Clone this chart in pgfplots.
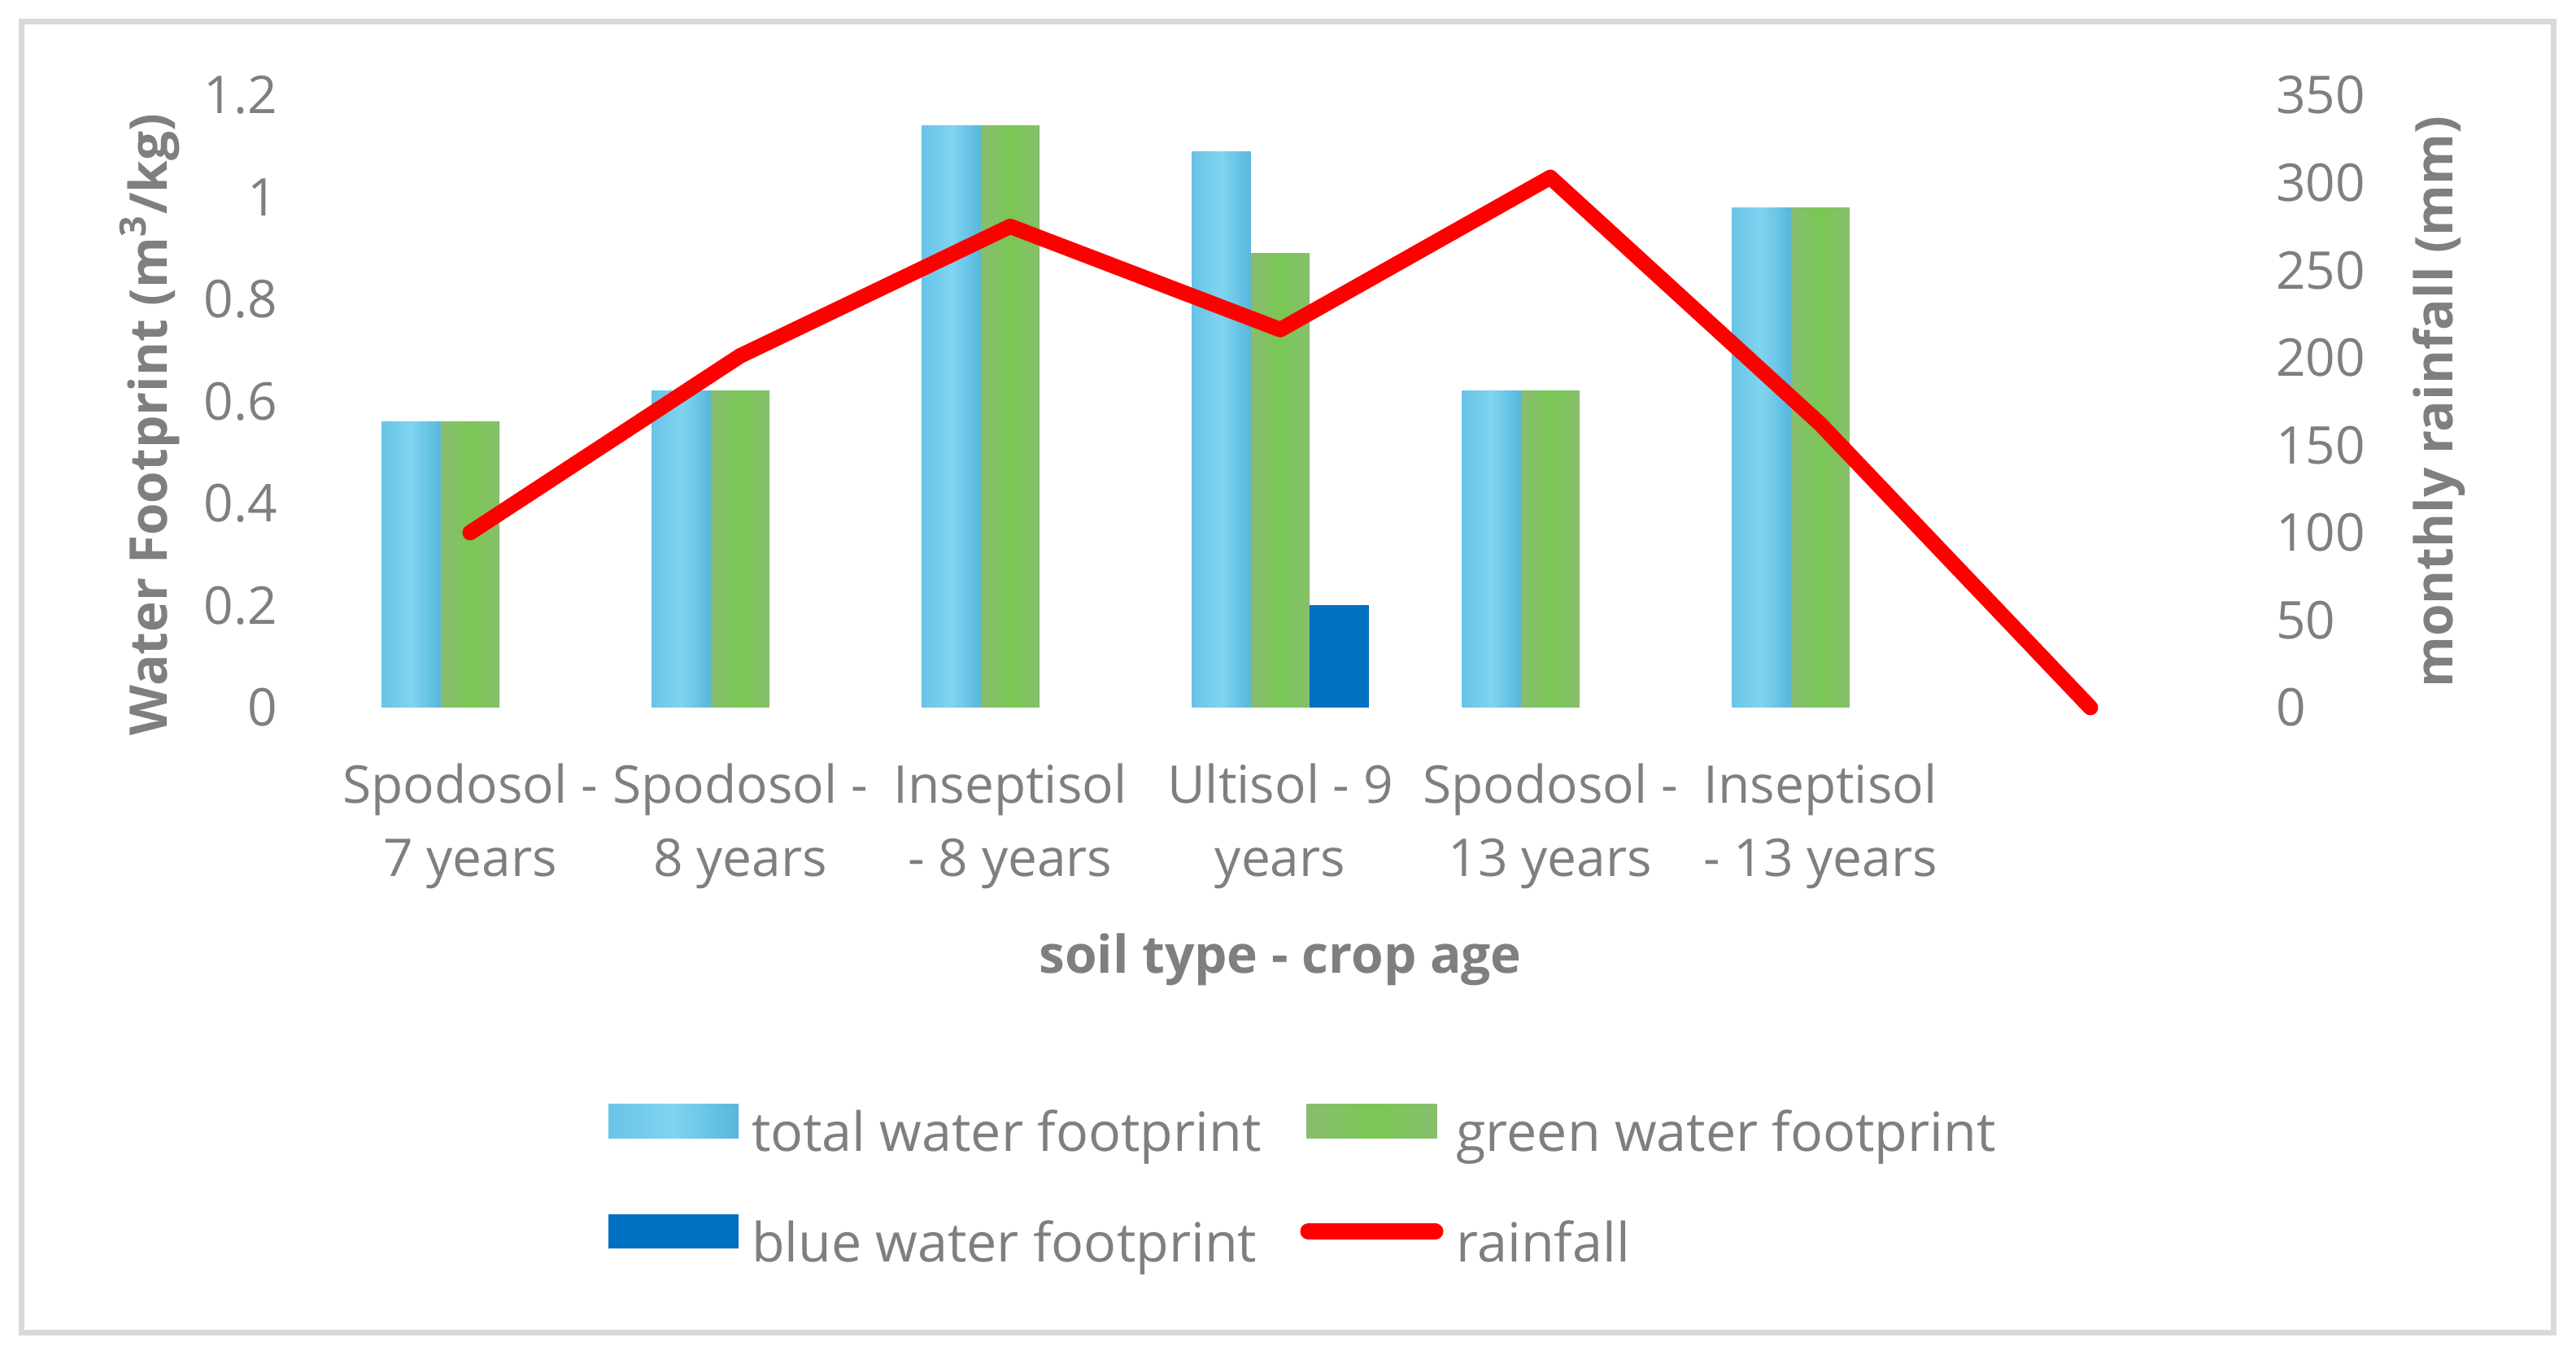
\documentclass[border=0pt]{standalone}
\usepackage{pgfplots}
\pgfplotsset{compat=1.18}
\usepackage{fontspec}
\setmainfont{Open Sans}
\definecolor{txt}{HTML}{7F7F7F}
\definecolor{framec}{HTML}{D9D9D9}
\definecolor{tL}{HTML}{68C4E7}
\definecolor{tR}{HTML}{56B7DD}
\definecolor{tM}{HTML}{80D4EF}
\definecolor{gL}{HTML}{88BD70}
\definecolor{gR}{HTML}{86BF6C}
\definecolor{gM}{HTML}{7AC755}
\definecolor{blu}{HTML}{0070C0}
\pgfplotsset{
  totbar/.style={draw=none, bar shift=-18.1pt, left color=tL, right color=tR, middle color=tM},
  grnbar/.style={draw=none, bar shift=0pt, left color=gL, right color=gR, middle color=gM},
}
\begin{document}
\begin{tikzpicture}
\path[use as bounding box] (-103pt,-199pt) rectangle (688.75pt,217.5pt);
\draw[framec, line width=1.75pt] (-96.25pt,-192.125pt) rectangle (681.875pt,210.75pt);
\begin{axis}[
  at={(0pt,0pt)}, anchor=south west,
  scale only axis, width=581pt, height=188.25pt,
  xmin=-0.5, xmax=6.5, ymin=0, ymax=1.2,
  axis x line*=bottom, axis y line*=left,
  axis line style={draw=none}, tick style={draw=none},
  xtick={0,1,2,3,4,5,6},
  xticklabels={{Spodosol -\\7 years},{Spodosol -\\8 years},{Inseptisol\\- 8 years},{Ultisol - 9\\years},{Spodosol -\\13 years},{Inseptisol\\- 13 years},{}},
  ytick={0,0.2,0.4,0.6,0.8,1,1.2},
  yticklabels={0,0.2,0.4,0.6,0.8,1,1.2},
  ticklabel style={font=\fontsize{16}{22.5}\selectfont, text=txt},
  xticklabel style={align=center, yshift=-9.4pt},
  yticklabel style={xshift=-14.2pt},
  ybar=0pt, bar width=18.1pt,
  xlabel={soil type - crop age},
  ylabel={Water Footprint (m\textsuperscript{3}/kg)},
  every axis x label/.style={at={(rel axis cs:0.5,0)}, yshift=-81.75pt, anchor=base, font=\bfseries\fontsize{16}{19}\selectfont, text=txt},
  every axis y label/.style={at={(rel axis cs:0,0.462)}, xshift=-57pt, rotate=90, anchor=center, font=\bfseries\fontsize{16}{19}\selectfont, text=txt},
  clip=false
]
% total water footprint
\addplot[totbar] coordinates {(0,0.56)};
\addplot[totbar] coordinates {(1,0.62)};
\addplot[totbar] coordinates {(2,1.14)};
\addplot[totbar] coordinates {(3,1.09)};
\addplot[totbar] coordinates {(4,0.62)};
\addplot[totbar] coordinates {(5,0.98)};
% green water footprint
\addplot[grnbar] coordinates {(0,0.56)};
\addplot[grnbar] coordinates {(1,0.62)};
\addplot[grnbar] coordinates {(2,1.14)};
\addplot[grnbar] coordinates {(3,0.89)};
\addplot[grnbar] coordinates {(4,0.62)};
\addplot[grnbar] coordinates {(5,0.98)};
% blue water footprint
\addplot[draw=none, fill=blu, bar shift=18.1pt] coordinates {(3,0.20)};
\end{axis}
\begin{axis}[
  at={(0pt,0pt)}, anchor=south west,
  scale only axis, width=581pt, height=188.25pt,
  xmin=-0.5, xmax=6.5, ymin=0, ymax=350,
  axis y line*=right, axis x line*=bottom,
  axis line style={draw=none}, tick style={draw=none},
  xtick=\empty,
  ytick={0,50,100,150,200,250,300,350},
  yticklabels={0,50,100,150,200,250,300,350},
  yticklabel pos=right,
  ticklabel style={font=\fontsize{16}{23}\selectfont, text=txt},
  yticklabel style={anchor=west, xshift=12pt},
  ylabel={monthly rainfall (mm)},
  every axis y label/.style={at={(rel axis cs:1,0.499)}, xshift=65.75pt, rotate=90, anchor=center, font=\bfseries\fontsize{16}{19}\selectfont, text=txt},
  clip=false,
  legend columns=2,
  legend cell align=left,
  legend style={at={(axis description cs:0,0)}, xshift=84pt, yshift=-121.75pt, anchor=north west,
    draw=none, fill=none, inner sep=0pt, outer sep=0pt,
    font=\fontsize{16.6}{19}\selectfont, text=txt,
    nodes={inner sep=0pt, text height=12pt, text depth=4pt},
    row sep=15.5pt,
    /tikz/every odd column/.append style={column sep=4pt},
    /tikz/every even column/.append style={column sep=12pt},
    /tikz/column 3/.append style={column sep=2pt}},
]
\addlegendimage{draw=none, legend image code/.code={\path[draw=none, left color=tL, right color=tR, middle color=tM] (0pt,0pt) rectangle (40pt,10.5pt);}}
\addlegendentry{total water footprint}
\addlegendimage{draw=none, legend image code/.code={\path[draw=none, left color=gL, right color=gR, middle color=gM] (0pt,0pt) rectangle (40pt,10.5pt);}}
\addlegendentry{green water footprint}
\addlegendimage{draw=none, legend image code/.code={\fill[blu, draw=none] (0pt,0pt) rectangle (40pt,10.5pt);}}
\addlegendentry{blue water footprint}
\addplot[red, line width=4.75pt, line join=round, line cap=round,
  legend image code/.code={\draw[red, line width=5pt, line cap=round] (0.5pt,5.25pt) -- (39.5pt,5.25pt);}]
  coordinates {(0,100) (1,201) (2,275) (3,216) (4,303) (5,162) (6,0)};
\addlegendentry{rainfall}
\end{axis}
\end{tikzpicture}
\end{document}
